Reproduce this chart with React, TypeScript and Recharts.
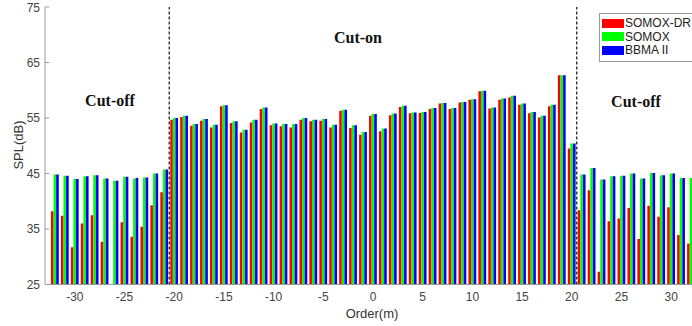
import { BarChart, Bar, XAxis, YAxis, ReferenceLine } from 'recharts';

// spatial order m, from -32 to 32
const orders = [
  -32, -31, -30, -29, -28, -27, -26, -25, -24, -23, -22, -21, -20, -19, -18, -17, -16, -15, -14, -13, -12, -11,
  -10, -9, -8, -7, -6, -5, -4, -3, -2, -1, 0, 1, 2, 3, 4, 5, 6, 7, 8, 9, 10, 11, 12, 13, 14, 15, 16, 17, 18, 19,
  20, 21, 22, 23, 24, 25, 26, 27, 28, 29, 30, 31, 32,
];

const somoxDr = [
  38.2, 37.4, 31.7, 36.0, 37.5, 32.7, 25.0, 36.2, 33.6, 35.4, 39.3, 41.6, 54.7, 55.2, 53.6, 54.5, 53.3, 57.1, 54.1, 52.4, 54.2, 56.6,
  53.7, 53.5, 53.3, 54.7, 54.4, 54.5, 53.3, 56.3, 53.2, 52.0, 55.4, 52.6, 55.5, 57.0, 55.85, 55.9, 56.6, 57.6, 56.6, 57.8, 58.3, 59.8, 56.7, 58.3, 58.7, 57.4, 55.85, 55.1, 57.1, 62.7,
  49.5, 38.4, 42.0, 27.3, 36.4, 36.9, 38.8, 33.2, 39.2, 37.2, 38.9, 33.9, 32.4,
];

const somox = [
  44.8, 44.6, 44.0, 44.5, 44.7, 44.1, 43.7, 44.4, 44.1, 44.3, 45.0, 45.7, 55.0, 55.4, 53.9, 54.8, 53.8, 57.3, 54.4, 52.9, 54.7, 56.9,
  54.0, 53.9, 53.9, 55.0, 54.7, 54.8, 53.8, 56.5, 53.7, 52.5, 55.7, 53.1, 55.8, 57.2, 56.0, 56.1, 56.8, 57.7, 56.8, 57.9, 58.4, 59.9, 56.9, 58.5, 59.0, 57.6, 56.1, 55.4, 57.4, 62.7,
  50.4, 44.8, 46.0, 43.9, 44.5, 44.6, 45.0, 44.1, 45.1, 44.7, 45.0, 44.2, 44.2,
];

const bbma = [
  44.8, 44.6, 44.0, 44.5, 44.7, 44.1, 43.7, 44.4, 44.2, 44.3, 45.0, 45.7, 55.0, 55.4, 53.9, 54.8, 53.8, 57.3, 54.4, 52.9, 54.7, 56.9,
  54.0, 53.9, 53.9, 55.0, 54.7, 54.8, 53.8, 56.5, 53.7, 52.5, 55.7, 53.1, 55.8, 57.2, 56.0, 56.1, 56.8, 57.7, 56.8, 57.9, 58.4, 59.9, 56.9, 58.5, 59.0, 57.6, 56.1, 55.4, 57.4, 62.7,
  50.4, 44.8, 46.0, 43.9, 44.5, 44.6, 45.0, 44.1, 45.1, 44.7, 45.0, 44.2, 44.2,
];

const xTicks = [-30, -25, -20, -15, -10, -5, 0, 5, 10, 15, 20, 25, 30];
const yTicks = [25, 35, 45, 55, 65, 75];

const series = [
  { key: 'somoxDr', name: 'SOMOX-DR', color: '#ff0000' },
  { key: 'somox', name: 'SOMOX', color: '#00ff00' },
  { key: 'bbma', name: 'BBMA II', color: '#0000ff' },
];

const data = orders.map((order, i) => ({
  order,
  somoxDr: somoxDr[i],
  somox: somox[i],
  bbma: bbma[i],
}));

const axisFont = '"Liberation Sans", Arial, sans-serif';
const axisColor = '#9a9a9a';

function Note({ text, cx, cy }: { text: string; cx: number; cy: number }) {
  return (
    <div
      style={{
        position: 'absolute',
        left: cx,
        top: cy,
        transform: 'translate(-50%, -50%)',
        whiteSpace: 'nowrap',
        fontFamily: '"Liberation Serif", "Times New Roman", serif',
        fontWeight: 'bold',
        fontSize: 16,
        color: '#111',
      }}
    >
      {text}
    </div>
  );
}

export default function App() {
  return (
    <div
      style={{
        position: 'absolute',
        left: 0,
        top: 0,
        width: 692,
        height: 326,
        overflow: 'hidden',
        background: '#fff',
        fontFamily: axisFont,
      }}
    >
      <BarChart
        width={712}
        height={326}
        data={data}
        margin={{ top: 7, right: 11, left: 0, bottom: 11.5 }}
        barSize={2.6}
        barGap={0}
      >
        <XAxis
          type="number"
          dataKey="order"
          domain={[-33, 33]}
          ticks={xTicks}
          allowDataOverflow
          height={30}
          tickSize={-4}
          tickMargin={12}
          tickLine={false}
          stroke={axisColor}
          tick={{ fill: '#444', fontSize: 12, fontFamily: axisFont }}
        />
        <XAxis
          xAxisId="top"
          orientation="top"
          type="number"
          dataKey="order"
          domain={[-33, 33]}
          ticks={xTicks}
          allowDataOverflow
          height={0}
          tickSize={-4}
          tickFormatter={() => ''}
          stroke={axisColor}
        />
        <YAxis
          domain={[25, 75]}
          ticks={yTicks}
          allowDataOverflow
          width={45}
          tickSize={-4}
          tickMargin={9}
          stroke={axisColor}
          tick={{ fill: '#444', fontSize: 12, fontFamily: axisFont }}
        />

        {series.map((s) => (
          <Bar key={s.key} dataKey={s.key} name={s.name} fill={s.color} isAnimationActive={false} />
        ))}

        {/* cut-on / cut-off boundaries */}
        <ReferenceLine x={-20.5} stroke="#222" strokeWidth={1.3} strokeDasharray="3 2" />
        <ReferenceLine x={20.5} stroke="#222" strokeWidth={1.3} strokeDasharray="3 2" />
      </BarChart>

      <Note text="Cut-off" cx={110} cy={101} />
      <Note text="Cut-on" cx={358} cy={38} />
      <Note text="Cut-off" cx={636} cy={102} />

      <div
        style={{
          position: 'absolute',
          left: 18,
          top: 145,
          transform: 'translate(-50%, -50%) rotate(-90deg)',
          whiteSpace: 'nowrap',
          fontSize: 13,
          color: '#333',
        }}
      >
        SPL(dB)
      </div>
      <div
        style={{
          position: 'absolute',
          left: 372,
          top: 313,
          transform: 'translate(-50%, -50%)',
          whiteSpace: 'nowrap',
          fontSize: 13,
          color: '#333',
        }}
      >
        Order(m)
      </div>

      {/* legend */}
      <div
        style={{
          position: 'absolute',
          left: 599,
          top: 13,
          width: 110,
          height: 47,
          border: `1px solid ${axisColor}`,
          background: '#fff',
        }}
      >
        {series.map((s, i) => (
          <div
            key={s.key}
            style={{ position: 'absolute', left: 2, top: 4 + i * 13.7, display: 'flex', alignItems: 'center' }}
          >
            <div style={{ width: 22, height: 9, background: s.color }} />
            <span style={{ marginLeft: 1, fontSize: 12, color: '#222', lineHeight: '10px' }}>{s.name}</span>
          </div>
        ))}
      </div>
    </div>
  );
}
